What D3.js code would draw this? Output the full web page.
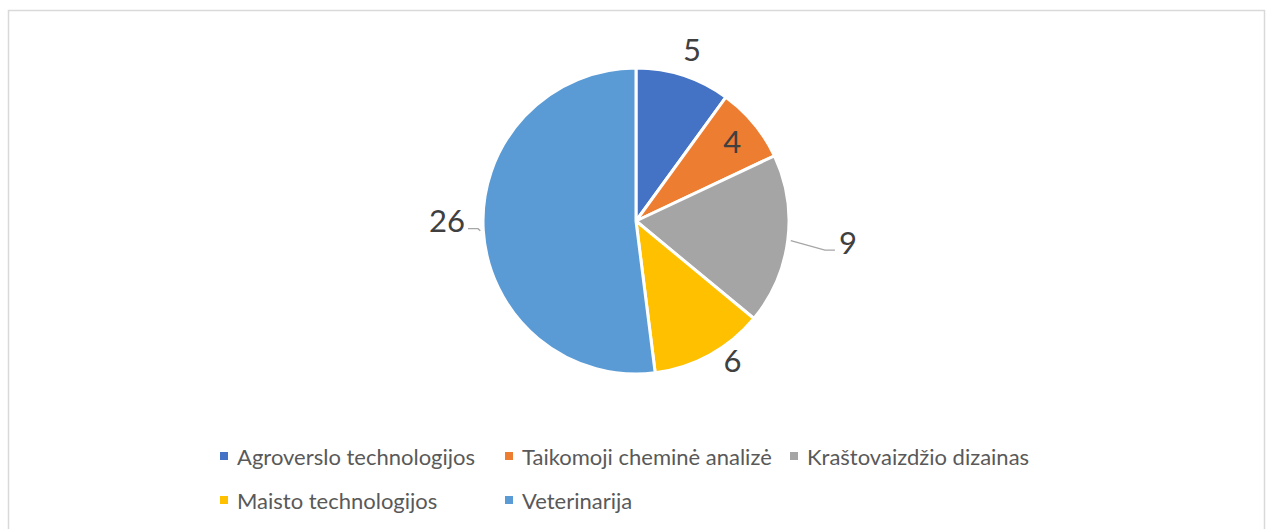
<!DOCTYPE html>
<meta charset="utf-8">
<body style="margin:0;background:#fff">
<div class="chart"></div>
<script src="https://d3js.org/d3.v7.min.js"></script>
<script>
    // chart data
    const categories = ["Agroverslo technologijos", "Taikomoji cheminė analizė", "Kraštovaizdžio dizainas", "Maisto technologijos", "Veterinarija"];
    const values = [5, 4, 9, 6, 26];
    const colors = ["#4472C4", "#ED7D31", "#A5A5A5", "#FFC000", "#5B9BD5"];

    const width = 1269, height = 529;
    const cx = 636, cy = 221, radius = 153;

    // label placement (radius from centre, angle shift in degrees), leader lines where Excel drew them
    const labelR = [181, 125, 213, 169, 189];
    const labelShift = [0, 0, -1.5, -6, 4];
    const hasLeader = [false, false, true, false, true];

    let svg = d3.select(".chart").append("svg")
        .attr("width", width)
        .attr("height", height)
        .style("font-family", "Lato, 'Open Sans', sans-serif");

    // chart area border
    svg.append("rect")
        .attr("x", 8.5).attr("y", 10.5)
        .attr("width", 1256).attr("height", 560)
        .attr("fill", "none")
        .attr("stroke", "#d9d9d9")
        .attr("stroke-width", 1.5);

    let pie = d3.pie().sort(null).value(d => d);
    let arcs = pie(values);
    let arc = d3.arc().innerRadius(0).outerRadius(radius);

    let g = svg.append("g").attr("transform", `translate(${cx},${cy})`);

    g.selectAll("path.slice")
        .data(arcs)
        .join("path")
        .attr("class", "slice")
        .attr("d", arc)
        .attr("fill", (d, i) => colors[i])
        .attr("stroke", "#fff")
        .attr("stroke-width", 3)
        .attr("stroke-linejoin", "round");

    let mid = d => (d.startAngle + d.endAngle) / 2;
    let polar = (a, r) => [r * Math.sin(a), -r * Math.cos(a)];

    let labelPos = arcs.map((d, i) => polar(mid(d) + labelShift[i] * Math.PI / 180, labelR[i]));

    // leader lines
    arcs.forEach((d, i) => {
        if (!hasLeader[i]) return;
        let a = mid(d);
        let s = polar(a, radius + 3);
        let p = labelPos[i];
        let right = Math.sin(a) > 0;
        let end = right ? [p[0] - 13, p[1] + 8] : [p[0] + 21, p[1] + 9];
        let elbow = right ? [end[0] - 10, end[1]] : [end[0] + 10, end[1]];
        g.append("polyline")
            .attr("points", [s, elbow, end].map(q => q.join(",")).join(" "))
            .attr("fill", "none")
            .attr("stroke", "#a6a6a6")
            .attr("stroke-width", 1.3);
    });

    g.selectAll("text.val")
        .data(arcs)
        .join("text")
        .attr("class", "val")
        .attr("x", (d, i) => labelPos[i][0])
        .attr("y", (d, i) => labelPos[i][1])
        .attr("text-anchor", "middle")
        .attr("dominant-baseline", "central")
        .attr("font-size", 31)
        .attr("fill", "#404040")
        .text(d => d.data);

    // legend, three columns
    let legendX = [220, 505, 790];
    let legendY = [456, 500];
    let legend = svg.append("g").selectAll("g")
        .data(categories)
        .join("g")
        .attr("transform", (d, i) => `translate(${legendX[i % 3]},${legendY[Math.floor(i / 3)]})`);

    legend.append("rect")
        .attr("x", 0).attr("y", -4)
        .attr("width", 8).attr("height", 8)
        .attr("fill", (d, i) => colors[i]);

    legend.append("text")
        .attr("x", 17)
        .attr("y", 0)
        .attr("dominant-baseline", "central")
        .attr("font-size", 22)
        .attr("fill", "#595959")
        .text(d => d);
</script>
